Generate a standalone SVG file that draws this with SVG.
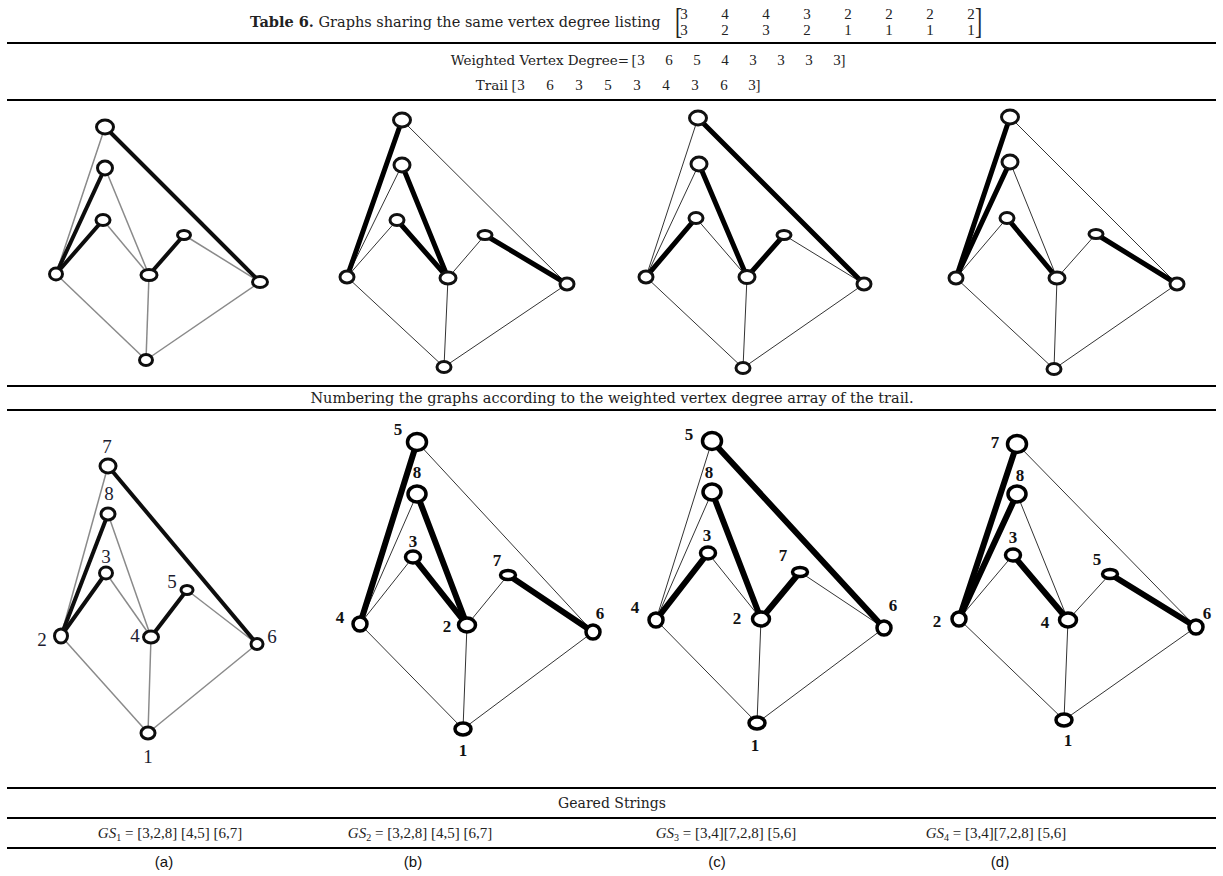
<svg xmlns="http://www.w3.org/2000/svg" width="1223" height="876" viewBox="0 0 1223 876">
  <defs>
    <!-- the two (a) drawings come from a lower-resolution source, so they are slightly softened -->
    <filter id="soft" x="-20%" y="-20%" width="140%" height="140%">
      <feGaussianBlur stdDeviation="0.5"/>
    </filter>
  </defs>
  <style>
    .body { font-family: "DejaVu Serif", "Liberation Serif", serif; font-size: 14px; fill: #222; }
    .math { font-family: "Liberation Serif", "DejaVu Serif", serif; font-size: 15px; fill: #222; }
    .delim { font-family: "Liberation Serif", "DejaVu Serif", serif; font-size: 36px; fill: #222; }
    .cap { font-family: "Liberation Sans", Arial, sans-serif; font-size: 15px; fill: #111; text-anchor: middle; }
    .rule { stroke: #000; stroke-width: 2; }
    .ta { stroke: #8a8a8a; stroke-width: 1.5; fill: none; filter: url(#soft); }
    .ka { stroke: #111; stroke-width: 4; fill: none; stroke-linecap: round; filter: url(#soft); }
    .tn { stroke: #333; stroke-width: 1; fill: none; }
    .kn { stroke: #000; stroke-width: 5; fill: none; stroke-linecap: round; }
    .kn2 { stroke: #000; stroke-width: 6; fill: none; stroke-linecap: round; }
    .v { fill: #fff; stroke: #111; stroke-width: 3; }
    .va { fill: #fff; stroke: #111; stroke-width: 3; filter: url(#soft); }
    .v2 { fill: #fff; stroke: #000; stroke-width: 3.5; }
    .la { font-family: "Liberation Serif", "Times New Roman", serif; font-size: 19px; fill: #1c1c30; text-anchor: middle; }
    .lb { font-family: "Liberation Serif", "Times New Roman", serif; font-size: 17px; font-weight: bold; fill: #111; text-anchor: middle; }
  </style>

  <!-- table rules -->
  <g id="rules">
    <line class="rule" x1="7" y1="43" x2="1216" y2="43"/>
    <line class="rule" x1="7" y1="100" x2="1216" y2="100"/>
    <line class="rule" x1="7" y1="386" x2="1216" y2="386"/>
    <line class="rule" x1="7" y1="410" x2="1216" y2="410"/>
    <line class="rule" x1="7" y1="788" x2="1216" y2="788"/>
    <line class="rule" x1="7" y1="818" x2="1216" y2="818"/>
    <line class="rule" x1="7" y1="848" x2="1216" y2="848"/>
  </g>

  <!-- caption with degree listing matrix -->
  <g id="caption">
    <text class="body" x="250" y="27" style="font-size:14.5px"><tspan font-weight="bold">Table 6.</tspan> Graphs sharing the same vertex degree listing</text>
    <text class="delim" transform="translate(675,33) scale(0.6,1)">[</text>
    <text class="delim" transform="translate(975,33) scale(0.6,1)">]</text>
    <g class="math" text-anchor="middle">
      <text x="684" y="19">3</text><text x="725" y="19">4</text><text x="766" y="19">4</text><text x="807" y="19">3</text>
      <text x="848" y="19">2</text><text x="889" y="19">2</text><text x="930" y="19">2</text><text x="971" y="19">2</text>
      <text x="684" y="35">3</text><text x="725" y="35">2</text><text x="766" y="35">3</text><text x="807" y="35">2</text>
      <text x="848" y="35">1</text><text x="889" y="35">1</text><text x="930" y="35">1</text><text x="971" y="35">1</text>
    </g>
  </g>

  <!-- weighted vertex degree and trail -->
  <g id="degree-row">
    <text class="body" x="629" y="65" text-anchor="end" style="font-size:13.5px">Weighted Vertex Degree=</text>
    <g class="math" text-anchor="middle">
      <text x="634" y="65">[</text>
      <text x="641" y="65">3</text><text x="669" y="65">6</text><text x="697" y="65">5</text><text x="725" y="65">4</text>
      <text x="753" y="65">3</text><text x="781" y="65">3</text><text x="809" y="65">3</text><text x="837" y="65">3</text>
      <text x="843" y="65">]</text>
    </g>
    <text class="body" x="508" y="90" text-anchor="end" style="font-size:13.5px">Trail</text>
    <g class="math" text-anchor="middle">
      <text x="514" y="90">[</text>
      <text x="521" y="90">3</text><text x="550" y="90">6</text><text x="579" y="90">3</text><text x="608" y="90">5</text>
      <text x="637" y="90">3</text><text x="666" y="90">4</text><text x="695" y="90">3</text><text x="724" y="90">6</text>
      <text x="752" y="90">3</text>
      <text x="758" y="90">]</text>
    </g>
  </g>

  <text id="numbering-note" class="body" x="612" y="403" text-anchor="middle" style="font-size:14.5px">Numbering the graphs according to the weighted vertex degree array of the trail.</text>

  <!-- connectors -->
  <g id="connectors">
    <!-- row 1, graph (a) -->
    <line class="ta" x1="105" y1="127" x2="56" y2="274"/>
    <line class="ta" x1="105" y1="168" x2="149" y2="275"/>
    <line class="ta" x1="103" y1="220" x2="149" y2="275"/>
    <line class="ta" x1="184" y1="235" x2="260" y2="282"/>
    <line class="ta" x1="56" y1="274" x2="146" y2="360"/>
    <line class="ta" x1="149" y1="275" x2="146" y2="360"/>
    <line class="ta" x1="260" y1="282" x2="146" y2="360"/>
    <line class="ka" x1="105" y1="127" x2="260" y2="282"/>
    <line class="ka" x1="105" y1="168" x2="56" y2="274"/>
    <line class="ka" x1="103" y1="220" x2="56" y2="274"/>
    <line class="ka" x1="184" y1="235" x2="149" y2="275"/>
    <!-- row 1, graph (b) -->
    <line class="tn" x1="402" y1="120" x2="567" y2="284"/>
    <line class="tn" x1="402" y1="165" x2="347" y2="277"/>
    <line class="tn" x1="397" y1="220" x2="347" y2="277"/>
    <line class="tn" x1="485" y1="235" x2="448" y2="278"/>
    <line class="tn" x1="347" y1="277" x2="444" y2="367"/>
    <line class="tn" x1="448" y1="278" x2="444" y2="367"/>
    <line class="tn" x1="567" y1="284" x2="444" y2="367"/>
    <line class="kn" x1="402" y1="120" x2="347" y2="277"/>
    <line class="kn" x1="402" y1="165" x2="448" y2="278"/>
    <line class="kn" x1="397" y1="220" x2="448" y2="278"/>
    <line class="kn" x1="485" y1="235" x2="567" y2="284"/>
    <!-- row 1, graph (c) -->
    <line class="tn" x1="698" y1="118" x2="646" y2="277"/>
    <line class="tn" x1="699" y1="164" x2="646" y2="277"/>
    <line class="tn" x1="696" y1="218" x2="747" y2="277"/>
    <line class="tn" x1="784" y1="235" x2="864" y2="284"/>
    <line class="tn" x1="646" y1="277" x2="743" y2="368"/>
    <line class="tn" x1="747" y1="277" x2="743" y2="368"/>
    <line class="tn" x1="864" y1="284" x2="743" y2="368"/>
    <line class="kn" x1="698" y1="118" x2="864" y2="284"/>
    <line class="kn" x1="699" y1="164" x2="747" y2="277"/>
    <line class="kn" x1="696" y1="218" x2="646" y2="277"/>
    <line class="kn" x1="784" y1="235" x2="747" y2="277"/>
    <!-- row 1, graph (d) -->
    <line class="tn" x1="1010" y1="117" x2="1177" y2="284"/>
    <line class="tn" x1="1010" y1="162" x2="1057" y2="278"/>
    <line class="tn" x1="1007" y1="218" x2="956" y2="278"/>
    <line class="tn" x1="1096" y1="234" x2="1057" y2="278"/>
    <line class="tn" x1="956" y1="278" x2="1054" y2="369"/>
    <line class="tn" x1="1057" y1="278" x2="1054" y2="369"/>
    <line class="tn" x1="1177" y1="284" x2="1054" y2="369"/>
    <line class="kn" x1="1010" y1="117" x2="956" y2="278"/>
    <line class="kn" x1="1010" y1="162" x2="956" y2="278"/>
    <line class="kn" x1="1007" y1="218" x2="1057" y2="278"/>
    <line class="kn" x1="1096" y1="234" x2="1177" y2="284"/>
    <!-- row 2, graph (a) -->
    <line class="ta" x1="108" y1="466" x2="61" y2="636"/>
    <line class="ta" x1="108" y1="514" x2="151" y2="637"/>
    <line class="ta" x1="106" y1="573" x2="151" y2="637"/>
    <line class="ta" x1="187" y1="590" x2="257" y2="644"/>
    <line class="ta" x1="61" y1="636" x2="148" y2="733"/>
    <line class="ta" x1="151" y1="637" x2="148" y2="733"/>
    <line class="ta" x1="257" y1="644" x2="148" y2="733"/>
    <line class="ka" x1="108" y1="466" x2="257" y2="644"/>
    <line class="ka" x1="108" y1="514" x2="61" y2="636"/>
    <line class="ka" x1="106" y1="573" x2="61" y2="636"/>
    <line class="ka" x1="187" y1="590" x2="151" y2="637"/>
    <!-- row 2, graph (b) -->
    <line class="tn" x1="417" y1="442" x2="593" y2="632"/>
    <line class="tn" x1="417" y1="494" x2="360" y2="624"/>
    <line class="tn" x1="413" y1="557" x2="360" y2="624"/>
    <line class="tn" x1="508" y1="575" x2="467" y2="625"/>
    <line class="tn" x1="360" y1="624" x2="463" y2="729"/>
    <line class="tn" x1="467" y1="625" x2="463" y2="729"/>
    <line class="tn" x1="593" y1="632" x2="463" y2="729"/>
    <line class="kn2" x1="417" y1="442" x2="360" y2="624"/>
    <line class="kn2" x1="417" y1="494" x2="467" y2="625"/>
    <line class="kn2" x1="413" y1="557" x2="467" y2="625"/>
    <line class="kn2" x1="508" y1="575" x2="593" y2="632"/>
    <!-- row 2, graph (c) -->
    <line class="tn" x1="712" y1="441" x2="656" y2="620"/>
    <line class="tn" x1="712" y1="492" x2="656" y2="620"/>
    <line class="tn" x1="708" y1="553" x2="761" y2="619"/>
    <line class="tn" x1="800" y1="572" x2="884" y2="628"/>
    <line class="tn" x1="656" y1="620" x2="757" y2="723"/>
    <line class="tn" x1="761" y1="619" x2="757" y2="723"/>
    <line class="tn" x1="884" y1="628" x2="757" y2="723"/>
    <line class="kn2" x1="712" y1="441" x2="884" y2="628"/>
    <line class="kn2" x1="712" y1="492" x2="761" y2="619"/>
    <line class="kn2" x1="708" y1="553" x2="656" y2="620"/>
    <line class="kn2" x1="800" y1="572" x2="761" y2="619"/>
    <!-- row 2, graph (d) -->
    <line class="tn" x1="1017" y1="444" x2="1196" y2="627"/>
    <line class="tn" x1="1017" y1="494" x2="1068" y2="620"/>
    <line class="tn" x1="1013" y1="555" x2="959" y2="619"/>
    <line class="tn" x1="1110" y1="574" x2="1068" y2="620"/>
    <line class="tn" x1="959" y1="619" x2="1064" y2="720"/>
    <line class="tn" x1="1068" y1="620" x2="1064" y2="720"/>
    <line class="tn" x1="1196" y1="627" x2="1064" y2="720"/>
    <line class="kn2" x1="1017" y1="444" x2="959" y2="619"/>
    <line class="kn2" x1="1017" y1="494" x2="959" y2="619"/>
    <line class="kn2" x1="1013" y1="555" x2="1068" y2="620"/>
    <line class="kn2" x1="1110" y1="574" x2="1196" y2="627"/>
  </g>

  <!-- row 1 vertices -->
  <g id="r1a-top"><ellipse class="va" cx="105" cy="127" rx="8.5" ry="7"/></g>
  <g id="r1a-second"><ellipse class="va" cx="105" cy="168" rx="7.5" ry="7"/></g>
  <g id="r1a-third"><ellipse class="va" cx="103" cy="220" rx="7" ry="5.5"/></g>
  <g id="r1a-left"><ellipse class="va" cx="56" cy="274" rx="6.5" ry="6"/></g>
  <g id="r1a-middle"><ellipse class="va" cx="149" cy="275" rx="8" ry="5.5"/></g>
  <g id="r1a-small"><ellipse class="va" cx="184" cy="235" rx="6.5" ry="4.5"/></g>
  <g id="r1a-right"><ellipse class="va" cx="260" cy="282" rx="7.5" ry="5.5"/></g>
  <g id="r1a-bottom"><ellipse class="va" cx="146" cy="360" rx="6.5" ry="5.5"/></g>

  <g id="r1b-top"><ellipse class="v" cx="402" cy="120" rx="8.5" ry="7"/></g>
  <g id="r1b-second"><ellipse class="v" cx="402" cy="165" rx="8" ry="7"/></g>
  <g id="r1b-third"><ellipse class="v" cx="397" cy="220" rx="7" ry="5.5"/></g>
  <g id="r1b-left"><ellipse class="v" cx="347" cy="277" rx="7" ry="6"/></g>
  <g id="r1b-middle"><ellipse class="v" cx="448" cy="278" rx="8" ry="6"/></g>
  <g id="r1b-small"><ellipse class="v" cx="485" cy="235" rx="7" ry="4.5"/></g>
  <g id="r1b-right"><ellipse class="v" cx="567" cy="284" rx="7" ry="6"/></g>
  <g id="r1b-bottom"><ellipse class="v" cx="444" cy="367" rx="7" ry="5.5"/></g>

  <g id="r1c-top"><ellipse class="v" cx="698" cy="118" rx="8.5" ry="7"/></g>
  <g id="r1c-second"><ellipse class="v" cx="699" cy="164" rx="8" ry="7"/></g>
  <g id="r1c-third"><ellipse class="v" cx="696" cy="218" rx="7" ry="5.5"/></g>
  <g id="r1c-left"><ellipse class="v" cx="646" cy="277" rx="7" ry="6"/></g>
  <g id="r1c-middle"><ellipse class="v" cx="747" cy="277" rx="8" ry="6.5"/></g>
  <g id="r1c-small"><ellipse class="v" cx="784" cy="235" rx="7" ry="4.5"/></g>
  <g id="r1c-right"><ellipse class="v" cx="864" cy="284" rx="7" ry="6"/></g>
  <g id="r1c-bottom"><ellipse class="v" cx="743" cy="368" rx="7" ry="5.5"/></g>

  <g id="r1d-top"><ellipse class="v" cx="1010" cy="117" rx="8.5" ry="7"/></g>
  <g id="r1d-second"><ellipse class="v" cx="1010" cy="162" rx="8" ry="7"/></g>
  <g id="r1d-third"><ellipse class="v" cx="1007" cy="218" rx="7" ry="5.5"/></g>
  <g id="r1d-left"><ellipse class="v" cx="956" cy="278" rx="7" ry="6"/></g>
  <g id="r1d-middle"><ellipse class="v" cx="1057" cy="278" rx="8" ry="6"/></g>
  <g id="r1d-small"><ellipse class="v" cx="1096" cy="234" rx="7" ry="4.5"/></g>
  <g id="r1d-right"><ellipse class="v" cx="1177" cy="284" rx="7" ry="6"/></g>
  <g id="r1d-bottom"><ellipse class="v" cx="1054" cy="369" rx="7" ry="5.5"/></g>

  <!-- row 2 vertices with their numbers -->
  <g id="r2a-v7"><ellipse class="va" cx="108" cy="466" rx="8" ry="7"/><text class="la" x="107" y="453">7</text></g>
  <g id="r2a-v8"><ellipse class="va" cx="108" cy="514" rx="7" ry="6"/><text class="la" x="109" y="500">8</text></g>
  <g id="r2a-v3"><ellipse class="va" cx="106" cy="573" rx="6.5" ry="6"/><text class="la" x="106" y="563">3</text></g>
  <g id="r2a-v2"><ellipse class="va" cx="61" cy="636" rx="6.5" ry="7"/><text class="la" x="42" y="646">2</text></g>
  <g id="r2a-v4"><ellipse class="va" cx="151" cy="637" rx="7.5" ry="6"/><text class="la" x="135" y="642">4</text></g>
  <g id="r2a-v5"><ellipse class="va" cx="187" cy="590" rx="6" ry="4.5"/><text class="la" x="172" y="588">5</text></g>
  <g id="r2a-v6"><ellipse class="va" cx="257" cy="644" rx="6" ry="5.5"/><text class="la" x="272" y="643">6</text></g>
  <g id="r2a-v1"><ellipse class="va" cx="148" cy="733" rx="7" ry="6"/><text class="la" x="148" y="763">1</text></g>

  <g id="r2b-v5"><ellipse class="v2" cx="417" cy="442" rx="9.5" ry="8.5"/><text class="lb" x="398" y="435">5</text></g>
  <g id="r2b-v8"><ellipse class="v2" cx="417" cy="494" rx="9" ry="8"/><text class="lb" x="417" y="478">8</text></g>
  <g id="r2b-v3"><ellipse class="v2" cx="413" cy="557" rx="7.5" ry="6"/><text class="lb" x="413" y="547">3</text></g>
  <g id="r2b-v4"><ellipse class="v2" cx="360" cy="624" rx="7" ry="7"/><text class="lb" x="340" y="623">4</text></g>
  <g id="r2b-v2"><ellipse class="v2" cx="467" cy="625" rx="8.5" ry="7"/><text class="lb" x="447" y="632">2</text></g>
  <g id="r2b-v7"><ellipse class="v2" cx="508" cy="575" rx="7.5" ry="4.5"/><text class="lb" x="497" y="566">7</text></g>
  <g id="r2b-v6"><ellipse class="v2" cx="593" cy="632" rx="7" ry="7"/><text class="lb" x="600" y="619">6</text></g>
  <g id="r2b-v1"><ellipse class="v2" cx="463" cy="729" rx="8" ry="6"/><text class="lb" x="463" y="756">1</text></g>

  <g id="r2c-v5"><ellipse class="v2" cx="712" cy="441" rx="9.5" ry="8.5"/><text class="lb" x="689" y="440">5</text></g>
  <g id="r2c-v8"><ellipse class="v2" cx="712" cy="492" rx="9" ry="8"/><text class="lb" x="709" y="478">8</text></g>
  <g id="r2c-v3"><ellipse class="v2" cx="708" cy="553" rx="7.5" ry="6"/><text class="lb" x="707" y="541">3</text></g>
  <g id="r2c-v4"><ellipse class="v2" cx="656" cy="620" rx="7" ry="7"/><text class="lb" x="635" y="613">4</text></g>
  <g id="r2c-v2"><ellipse class="v2" cx="761" cy="619" rx="8.5" ry="7"/><text class="lb" x="737" y="624">2</text></g>
  <g id="r2c-v7"><ellipse class="v2" cx="800" cy="572" rx="7.5" ry="4.5"/><text class="lb" x="783" y="561">7</text></g>
  <g id="r2c-v6"><ellipse class="v2" cx="884" cy="628" rx="7" ry="7"/><text class="lb" x="893" y="611">6</text></g>
  <g id="r2c-v1"><ellipse class="v2" cx="757" cy="723" rx="8" ry="6"/><text class="lb" x="755" y="751">1</text></g>

  <g id="r2d-v7"><ellipse class="v2" cx="1017" cy="444" rx="9.5" ry="8.5"/><text class="lb" x="995" y="448">7</text></g>
  <g id="r2d-v8"><ellipse class="v2" cx="1017" cy="494" rx="9" ry="8"/><text class="lb" x="1020" y="481">8</text></g>
  <g id="r2d-v3"><ellipse class="v2" cx="1013" cy="555" rx="7.5" ry="6"/><text class="lb" x="1013" y="543">3</text></g>
  <g id="r2d-v2"><ellipse class="v2" cx="959" cy="619" rx="7" ry="7"/><text class="lb" x="937" y="627">2</text></g>
  <g id="r2d-v4"><ellipse class="v2" cx="1068" cy="620" rx="8.5" ry="7"/><text class="lb" x="1045" y="628">4</text></g>
  <g id="r2d-v5"><ellipse class="v2" cx="1110" cy="574" rx="7.5" ry="4.5"/><text class="lb" x="1097" y="565">5</text></g>
  <g id="r2d-v6"><ellipse class="v2" cx="1196" cy="627" rx="7" ry="7"/><text class="lb" x="1207" y="619">6</text></g>
  <g id="r2d-v1"><ellipse class="v2" cx="1064" cy="720" rx="8" ry="6"/><text class="lb" x="1068" y="746">1</text></g>

  <!-- geared strings -->
  <text id="geared-head" class="body" x="612" y="808" text-anchor="middle">Geared Strings</text>
  <g id="geared-strings" class="math" text-anchor="middle">
    <text x="170" y="838"><tspan font-style="italic">GS</tspan><tspan font-size="10" dy="3">1</tspan><tspan dy="-3"> = [3,2,8]  [4,5]  [6,7]</tspan></text>
    <text x="420" y="838"><tspan font-style="italic">GS</tspan><tspan font-size="10" dy="3">2</tspan><tspan dy="-3"> = [3,2,8]  [4,5]  [6,7]</tspan></text>
    <text x="726" y="838"><tspan font-style="italic">GS</tspan><tspan font-size="10" dy="3">3</tspan><tspan dy="-3"> = [3,4][7,2,8]  [5,6]</tspan></text>
    <text x="996" y="838"><tspan font-style="italic">GS</tspan><tspan font-size="10" dy="3">4</tspan><tspan dy="-3"> = [3,4][7,2,8]  [5,6]</tspan></text>
  </g>
  <g id="panel-letters">
    <text class="cap" x="164" y="867">(a)</text>
    <text class="cap" x="413" y="867">(b)</text>
    <text class="cap" x="717" y="867">(c)</text>
    <text class="cap" x="1000" y="867">(d)</text>
  </g>
</svg>
